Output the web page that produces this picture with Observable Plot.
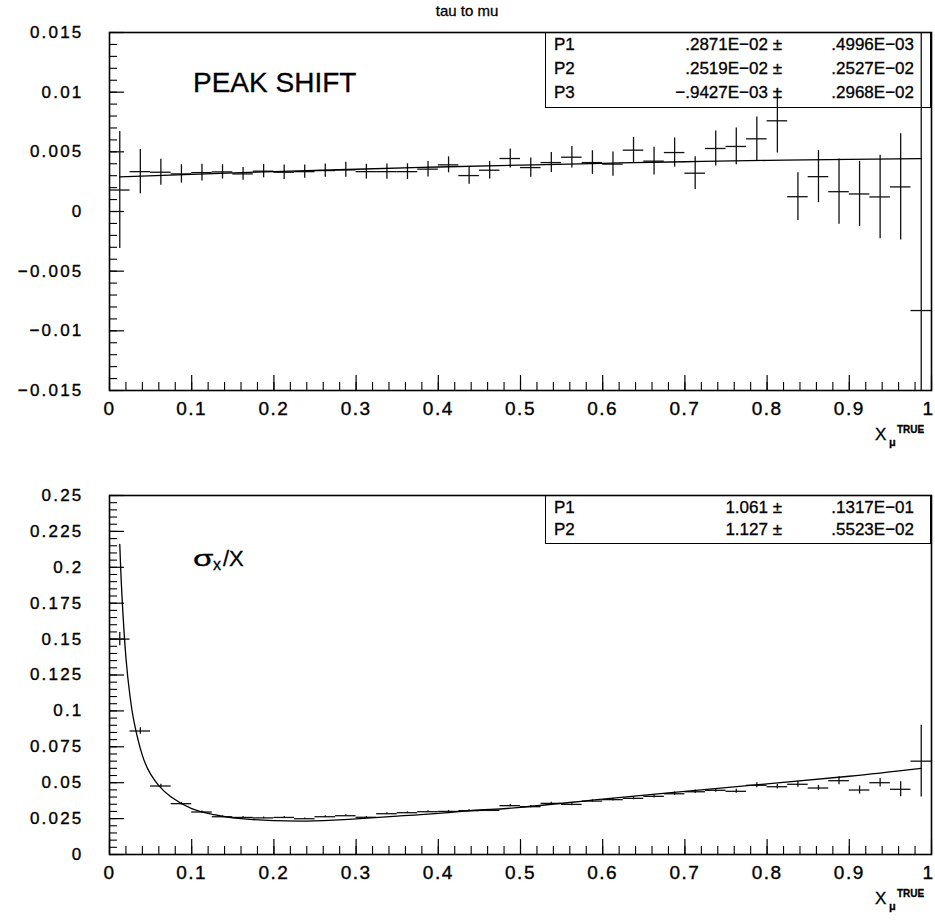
<!DOCTYPE html>
<html>
<head>
<meta charset="utf-8">
<script src="https://cdn.jsdelivr.net/npm/d3@7"></script>
<script src="https://cdn.jsdelivr.net/npm/@observablehq/plot@0.6"></script>
<style>
  body { margin: 0; background: #fff; }
  #wrap { position: relative; width: 935px; height: 920px; overflow: hidden; font-family: "Liberation Sans", Arial, sans-serif; color: #000; }
  #wrap svg { position: absolute; left: 0; overflow: visible; }
  .abs { position: absolute; white-space: nowrap; -webkit-text-stroke: 0.3px #000; }
  .box { position: absolute; border: 1.5px solid #000; box-sizing: border-box; background: transparent; }
  svg [aria-label^="y-axis"] text { font-size: 17px; letter-spacing: 2.2px; stroke: #000; stroke-width: 0.35px; }
  svg [aria-label^="x-axis"] text { font-size: 19px; letter-spacing: 1.5px; stroke: #000; stroke-width: 0.35px; }
</style>
</head>
<body>
<div id="wrap"></div>
<script>
// ---------------- data ----------------
const xCenters = [0.0125,0.0375,0.0625,0.0875,0.1125,0.1375,0.1625,0.1875,0.2125,0.2375,
                  0.2625,0.2875,0.3125,0.3375,0.3625,0.3875,0.4125,0.4375,0.4625,0.4875,
                  0.5125,0.5375,0.5625,0.5875,0.6125,0.6375,0.6625,0.6875,0.7125,0.7375,
                  0.7625,0.7875,0.8125,0.8375,0.8625,0.8875,0.9125,0.9375,0.9625,0.9875];
const binHalfWidth = 0.0125;

// top panel: peak shift
const peakValues = [0.0018,0.00334,0.00329,0.00315,0.00326,0.00332,0.00315,0.00338,0.00329,0.00334,
                    0.00343,0.00349,0.00334,0.00334,0.00334,0.00355,0.00391,0.00301,0.00346,0.00444,
                    0.00368,0.0041,0.00455,0.0041,0.00397,0.00514,0.00422,0.00494,0.00321,0.00528,
                    0.00545,0.00609,0.0076,0.00124,0.00292,0.00166,0.00147,0.00122,0.00206,-0.0083];
const peakErrors = [0.0049,0.00185,0.00108,0.00077,0.0007,0.0006,0.00053,0.00056,0.0006,0.00055,
                    0.00056,0.00063,0.00062,0.00064,0.00066,0.00065,0.00067,0.00073,0.00074,0.0008,
                    0.00081,0.00084,0.0009,0.00099,0.00102,0.00107,0.00117,0.00122,0.00137,0.00147,
                    0.00154,0.00183,0.0027,0.002,0.00218,0.00273,0.00273,0.0035,0.00445,0.026];
const peakFitX = [0.0125,0.1,0.2,0.3,0.4,0.5,0.6,0.7,0.8,0.9,0.9875];
const peakFitY = [0.00290,0.00311,0.00334,0.00354,0.00373,0.00389,0.00404,0.00417,0.00428,0.00437,0.00443];

// bottom panel: sigma_x / X
const sigmaValues = [0.150,0.086,0.0477,0.0354,0.0296,0.0263,0.0258,0.0255,0.0258,0.0249,
                     0.0263,0.0270,0.0259,0.0284,0.0291,0.0298,0.0300,0.0305,0.0307,0.0340,
                     0.0333,0.0356,0.0349,0.0372,0.0382,0.0391,0.0405,0.0423,0.0437,0.0447,
                     0.0440,0.0482,0.0472,0.0489,0.0463,0.0514,0.0449,0.0500,0.0454,0.065];
const sigmaErrors = [0.0046,0.0023,0.0012,0.0009,0.0007,0.0006,0.0006,0.0006,0.0006,0.0006,
                     0.0006,0.0006,0.0006,0.0006,0.0006,0.0006,0.0007,0.0007,0.0007,0.0008,
                     0.0008,0.0008,0.0009,0.0009,0.0010,0.0010,0.0011,0.0012,0.0012,0.0013,
                     0.0014,0.0017,0.0016,0.0020,0.0018,0.0028,0.0028,0.0030,0.0052,0.025];
const sigmaFitX = [0.0125,0.015,0.02,0.025,0.03,0.04,0.05,0.06,0.075,0.1,0.125,0.15,0.2,0.25,0.3,0.35,0.4,0.45,0.5,0.6,0.7,0.8,0.9,0.9875];
const sigmaFitY = [0.216,0.182,0.137,0.110,0.092,0.069,0.056,0.048,0.040,0.032,0.028,0.0255,0.0236,0.0234,0.0248,0.0267,0.0287,0.031,0.0328,0.0386,0.044,0.0492,0.0545,0.060];

// axes
const xTicks = [0,0.1,0.2,0.3,0.4,0.5,0.6,0.7,0.8,0.9,1];
const xTickLabels = ["0","0.1","0.2","0.3","0.4","0.5","0.6","0.7","0.8","0.9","1"];
const peakYTicks = [-0.015,-0.01,-0.005,0,0.005,0.01,0.015];
const peakYTickLabels = ["\u22120.015","\u22120.01","\u22120.005","0","0.005","0.01","0.015"];
const sigmaYTicks = [0,0.025,0.05,0.075,0.1,0.125,0.15,0.175,0.2,0.225,0.25];
const sigmaYTickLabels = ["0","0.025","0.05","0.075","0.1","0.125","0.15","0.175","0.2","0.225","0.25"];

// texts
const titleText = "tau to mu";
const peakLabel = "PEAK SHIFT";
const peakStats = [["P1", ".2871E\u221202 \u00b1", ".4996E\u221203"],
                   ["P2", ".2519E\u221202 \u00b1", ".2527E\u221202"],
                   ["P3", "\u2212.9427E\u221203 \u00b1", ".2968E\u221202"]];
const sigmaStats = [["P1", "1.061 \u00b1", ".1317E\u221201"],
                    ["P2", "1.127 \u00b1", ".5523E\u221202"]];

// ---------------- helpers ----------------
const W = 935;
const wrap = document.getElementById("wrap");
const xMinor = d3.range(0, 1.0001, 0.02);
const pick = (ticks, labels) => d => labels[d3.minIndex(ticks, t => Math.abs(t - d))];

function panel({top, height, mTop, mBottom, yDomain, yTicks, yLabels, yMinor, pts, fit}) {
  const mLeft = 109, mRight = 4;
  const fh = height - mTop - mBottom, fw = W - mLeft - mRight;
  const svg = Plot.plot({
    width: W, height,
    marginTop: mTop, marginBottom: mBottom, marginLeft: mLeft, marginRight: mRight,
    style: {fontFamily: "'Liberation Sans', Arial, sans-serif", fontSize: "17px", background: "transparent", color: "#000", overflow: "visible"},
    x: {domain: [0, 1], ticks: xTicks, tickFormat: pick(xTicks, xTickLabels), tickSize: 0, tickPadding: 11, label: null},
    y: {domain: yDomain, ticks: yTicks, tickFormat: pick(yTicks, yLabels), tickSize: 0, tickPadding: 26, label: null, clamp: true},
    marks: [
      Plot.ruleX(xTicks, {x: d => d, insetTop: fh - 15, stroke: "#000", strokeWidth: 1.2}),
      Plot.ruleX(xMinor, {x: d => d, insetTop: fh - 8, stroke: "#000", strokeWidth: 1.1}),
      Plot.ruleY(yTicks, {y: d => d, insetRight: fw - 15, stroke: "#000", strokeWidth: 1.2}),
      Plot.ruleY(yMinor, {y: d => d, insetRight: fw - 8, stroke: "#000", strokeWidth: 1.1}),
      Plot.ruleX(pts, {x: "x", y1: d => d.v - d.e, y2: d => d.v + d.e, stroke: "#111", strokeWidth: 1.3}),
      Plot.ruleY(pts, {y: "v", x1: d => d.x - binHalfWidth, x2: d => d.x + binHalfWidth, stroke: "#111", strokeWidth: 1.3}),
      Plot.line(fit, {x: "x", y: "y", curve: "natural", stroke: "#000", strokeWidth: 1.3}),
      Plot.frame({stroke: "#000", strokeWidth: 1.6})
    ]
  });
  svg.style.top = top + "px";
  // keep the last x label ("1") inside the page edge
  svg.querySelectorAll('[aria-label^="x-axis"] text').forEach(t => {
    if (t.textContent === "1") t.setAttribute("dx", "-3");
  });
  wrap.appendChild(svg);
}

function text(html, x, baseline, fs, {align = "left", weight = "normal", spacing = 0, scaleX = 1} = {}) {
  const d = document.createElement("div");
  d.className = "abs";
  d.style.fontSize = fs + "px";
  d.style.lineHeight = fs + "px";
  d.style.top = (baseline - 0.8465 * fs) + "px";
  d.style.fontWeight = weight;
  if (spacing) d.style.letterSpacing = spacing + "px";
  if (align === "left") d.style.left = x + "px";
  else if (align === "right") d.style.right = (W - x) + "px";
  else { d.style.left = x + "px"; d.style.transform = "translateX(-50%)"; }
  if (scaleX !== 1) { d.style.transform = `scaleX(${scaleX})`; d.style.transformOrigin = "left center"; }
  d.innerHTML = html;
  wrap.appendChild(d);
}

function box(l, t, r, b) {
  const d = document.createElement("div");
  d.className = "box";
  d.style.left = l + "px"; d.style.top = t + "px";
  d.style.width = (r - l) + "px"; d.style.height = (b - t) + "px";
  wrap.appendChild(d);
}

// ---------------- top panel ----------------
const peakPts = xCenters.map((x, i) => ({x, v: peakValues[i], e: peakErrors[i]}));
const peakFit = peakFitX.map((x, i) => ({x, y: peakFitY[i]}));
panel({top: 0, height: 460, mTop: 32, mBottom: 70,
       yDomain: [-0.015, 0.015], yTicks: peakYTicks, yLabels: peakYTickLabels,
       yMinor: d3.range(-0.015, 0.01501, 0.001), pts: peakPts, fit: peakFit});

// ---------------- bottom panel ----------------
const sigmaPts = xCenters.map((x, i) => ({x, v: sigmaValues[i], e: sigmaErrors[i]}));
const sigmaFit = sigmaFitX.map((x, i) => ({x, y: sigmaFitY[i]}));
panel({top: 460, height: 460, mTop: 35, mBottom: 66,
       yDomain: [0, 0.25], yTicks: sigmaYTicks, yLabels: sigmaYTickLabels,
       yMinor: d3.range(0, 0.2501, 0.005), pts: sigmaPts, fit: sigmaFit});

// ---------------- annotations ----------------
text(titleText, 467, 16, 15, {align: "center"});
text(peakLabel, 193, 93, 28);

box(545, 32, 931, 108);
peakStats.forEach((r, i) => {
  const b = 50 + i * 24.3;
  text(r[0], 554, b, 17);
  text(r[1], 782, b, 17, {align: "right"});
  text(r[2], 914, b, 17, {align: "right"});
});

box(545, 495, 931, 544);
sigmaStats.forEach((r, i) => {
  const b = 513 + i * 22;
  text(r[0], 554, b, 17);
  text(r[1], 782, b, 17, {align: "right"});
  text(r[2], 914, b, 17, {align: "right"});
});

// sigma_x / X label
text("\u03c3", 193, 567, 22, {scaleX: 1.5});
text("x", 213, 571, 16);
text("/X", 223, 567, 22);

// axis titles  X_mu^TRUE
[0, 464].forEach(off => {
  text("X", 875, 440 + off, 17);
  text("\u03bc", 889, 446 + off, 11, {weight: "bold"});
  text("TRUE", 897, 433 + off, 10, {weight: "bold"});
});
</script>
</body>
</html>
